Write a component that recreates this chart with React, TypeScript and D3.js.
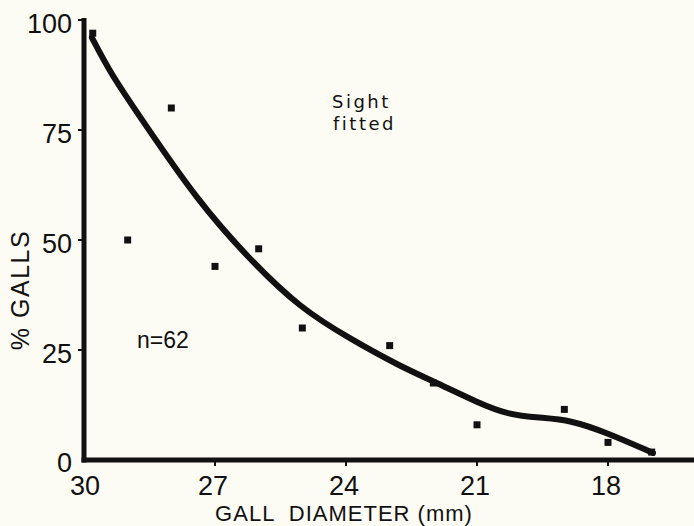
import { useEffect, useRef } from 'react'
import * as d3 from 'd3'

// observed points
const pointDiam = [29.8, 29.0, 28.0, 27.0, 26.0, 25.0, 23.0, 22.0, 21.0, 19.0, 18.0, 17.0]
const pointPct = [97, 50, 80, 44, 48, 30, 26, 17.5, 8, 11.5, 4, 1.8]

// sight-fitted curve
const curveDiam = [29.82, 29.4, 28.72, 27.41, 26.2, 25.05, 23.9, 22.76, 22.0, 20.93, 20.31, 19.56, 18.87, 18.02, 16.97]
const curvePct = [96, 88, 78, 59, 45.5, 34.5, 27.5, 21.3, 17.9, 12.8, 10.4, 9.6, 9.1, 6.2, 1.6]

const xTicks = [30, 27, 24, 21, 18]
const yTicks = [0, 25, 50, 75, 100]

export default function App() {
  const chartRef = useRef(null)

  useEffect(() => {
    const W = 694
    const H = 526
    d3.select(chartRef.current).selectAll('*').remove()

    const svg = d3.select(chartRef.current)
      .append('svg')
      .attr('width', W)
      .attr('height', H)
      .style('position', 'absolute')
      .style('left', 0)
      .style('top', 0)

    svg.append('rect').attr('width', W).attr('height', H).attr('fill', '#fcfbf4')

    const x = d3.scaleLinear().domain([30, 18]).range([84, 608])
    const y = d3.scaleLinear().domain([0, 100]).range([460, 20])

    const font = '"Liberation Sans", Arial, sans-serif'

    // axes
    svg.append('line')
      .attr('x1', x(30)).attr('x2', x(30))
      .attr('y1', y(100) - 2).attr('y2', y(0) + 2.5)
      .attr('stroke', '#111').attr('stroke-width', 5)
    svg.append('line')
      .attr('x1', x(30) - 2.5).attr('x2', W)
      .attr('y1', y(0)).attr('y2', y(0))
      .attr('stroke', '#111').attr('stroke-width', 5)

    // tick marks
    svg.selectAll('.xt').data(xTicks.slice(1)).enter().append('line')
      .attr('x1', d => x(d)).attr('x2', d => x(d))
      .attr('y1', y(0)).attr('y2', y(0) + 6)
      .attr('stroke', '#111').attr('stroke-width', 2)
    svg.selectAll('.yt').data(yTicks.slice(1)).enter().append('line')
      .attr('x1', x(30) - 6).attr('x2', x(30))
      .attr('y1', d => y(d)).attr('y2', d => y(d))
      .attr('stroke', '#111').attr('stroke-width', 2)

    // tick labels
    svg.selectAll('.xl').data(xTicks).enter().append('text')
      .attr('x', d => x(d) + (d === 30 ? 1 : -2))
      .attr('y', 495)
      .attr('text-anchor', 'middle')
      .style('font-family', font).style('font-size', '27px').attr('fill', '#111')
      .text(d => d)
    svg.selectAll('.yl').data(yTicks).enter().append('text')
      .attr('x', 72)
      .attr('y', d => y(d) + (d === 0 ? 12 : 13))
      .attr('text-anchor', 'end')
      .style('font-family', font).style('font-size', '27px').attr('fill', '#111')
      .text(d => d)

    // axis titles
    svg.append('text')
      .attr('x', 344).attr('y', 521)
      .attr('text-anchor', 'middle')
      .style('font-family', font).style('font-size', '22px').style('letter-spacing', '1px')
      .style('white-space', 'pre').attr('fill', '#111')
      .text('GALL  DIAMETER (mm)')
    svg.append('text')
      .attr('transform', 'translate(29,290) rotate(-90)')
      .attr('text-anchor', 'middle')
      .style('font-family', font).style('font-size', '25px').style('letter-spacing', '1.5px')
      .attr('fill', '#111')
      .text('% GALLS')

    // annotations
    svg.append('text')
      .attr('x', 137).attr('y', 348)
      .style('font-family', font).style('font-size', '23px').attr('fill', '#111')
      .text('n=62')
    const note = svg.append('text')
      .style('font-family', '"DejaVu Sans", sans-serif').style('font-size', '18px')
      .style('letter-spacing', '2.5px').attr('fill', '#111')
    note.append('tspan').attr('x', 332).attr('y', 108).text('Sight')
    note.append('tspan').attr('x', 333).attr('y', 130).text('fitted')

    // fitted curve
    const curveData = curveDiam.map((d, i) => ({ d, p: curvePct[i] }))
    const line = d3.line()
      .x(d => x(d.d))
      .y(d => y(d.p))
      .curve(d3.curveBasis)
    svg.append('path')
      .datum(curveData)
      .attr('d', line)
      .attr('fill', 'none')
      .attr('stroke', '#111')
      .attr('stroke-width', 6)
      .attr('stroke-linecap', 'round')

    // points
    const pts = pointDiam.map((d, i) => ({ d, p: pointPct[i] }))
    svg.selectAll('.pt').data(pts).enter().append('rect')
      .attr('x', d => x(d.d) - 3.5)
      .attr('y', d => y(d.p) - 3.5)
      .attr('width', 7)
      .attr('height', 7)
      .attr('fill', '#111')
  }, [])

  return <div ref={chartRef}></div>
}
